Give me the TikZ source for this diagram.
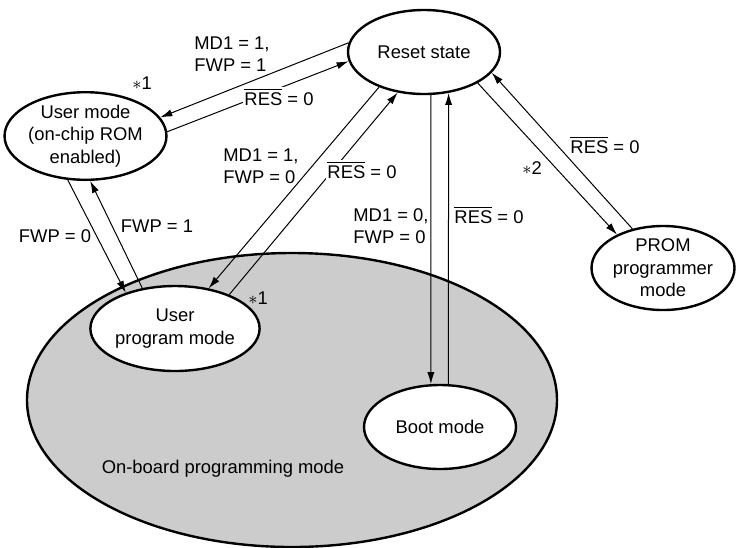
\documentclass[tikz,border=0pt]{standalone}
\usepackage{fontspec}
\setmainfont{Liberation Sans}
\usetikzlibrary{shapes.geometric,arrows.meta}
\newcommand\resbar{$\overline{\mbox{RES}}$}
\definecolor{regiongrey}{HTML}{CCCCCC}
\begin{document}
\begin{tikzpicture}[x=0.5pt,y=-0.5pt,
  every node/.style={font=\fontsize{9.2}{11.2}\selectfont},
  state/.style={ellipse,draw,line width=1.2pt,fill=white,inner sep=0pt,align=center},
  region/.style={ellipse,draw,line width=1.2pt,fill=regiongrey,inner sep=0pt},
  conn/.style={line width=0.5pt,-{Latex[length=6pt,width=3.6pt]}},
  lbl/.style={inner sep=0.5pt,align=left},
  clbl/.style={inner sep=0.8pt,fill=white}]
\useasboundingbox (0,0) rectangle (737,547);
% region
\node[region,minimum width=265pt,minimum height=147pt] (onboard) at (292,400) {};
% states
\node[state,minimum width=76pt,minimum height=42pt] (reset) at (424,52) {Reset state};
\node[state,minimum width=77.5pt,minimum height=39.5pt] (user) at (85.5,136) {User mode\\(on-chip ROM\\enabled)};
\node[state,minimum width=76pt,minimum height=42.5pt] (uprog) at (175,328.5) {User\\program mode};
\node[state,minimum width=71.5pt,minimum height=42pt] (prom) at (663,268) {PROM\\programmer\\mode};
\node[state,minimum width=76pt,minimum height=42pt] (boot) at (440,427) {Boot mode};
% connectors
\draw[conn] (reset.173.3) -- (user.14.9);
\draw[conn] (user.3) -- (reset.187.4);
\draw[conn] (reset.218) -- (uprog.50.1);
\draw[conn] (uprog.32.8) -- (reset.237.6);
\draw[conn] (reset.279.5) -- (boot.102.2);
\draw[conn] (boot.79.2) -- (reset.301.1);
\draw[conn] (reset.330.6) -- (prom.144.9);
\draw[conn] (prom.128.5) -- (reset.343.8);
\draw[conn] (user.248.3) -- (uprog.144.6);
\draw[conn] (uprog.129) -- (user.276.6);
% labels
\node[lbl,anchor=west] (l1) at (193,54) {MD1 = 1,\\FWP = 1};
\node[lbl] (l2) at (142,83) {$\ast$1};
\node[clbl] (l3) at (279,97) {\resbar{} = 0};
\node[lbl,anchor=west] (l4) at (222,166) {MD1 = 1,\\FWP = 0};
\node[clbl] (l5) at (362,170) {\resbar{} = 0};
\node[lbl] (l6) at (532,168) {$\ast$2};
\node[lbl] (l7) at (605,145) {\resbar{} = 0};
\node[lbl,anchor=west] (l8) at (352,226) {MD1 = 0,\\FWP = 0};
\node[lbl] (l9) at (489,215) {\resbar{} = 0};
\node[lbl] (l10) at (55,236) {FWP = 0};
\node[lbl] (l11) at (157,226) {FWP = 1};
\node[lbl] (l12) at (258,298) {$\ast$1};
\node[lbl] (l13) at (223,469) {On-board programming mode};
\end{tikzpicture}
\end{document}
